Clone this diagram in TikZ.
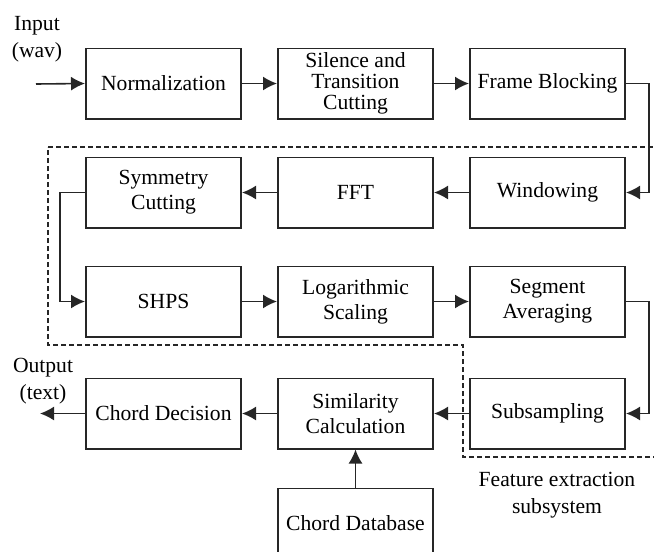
\documentclass[tikz,border=0pt]{standalone}
\usepackage{fontspec}
\setmainfont{Liberation Serif}
\usepackage{tikz}
\usetikzlibrary{arrows.meta,positioning}
\tikzset{
  box/.style={
    draw=black!85,fill=white,line width=.9pt,
    minimum width=77.6pt,minimum height=35.1pt,inner sep=1pt,
    align=center,font=\fontsize{10.8pt}{12.5pt}\selectfont
  },
  label/.style={align=center,font=\fontsize{10.8pt}{13.5pt}\selectfont},
  arrow/.style={-{Latex[length=7pt,width=7pt]},draw=black!85,line width=.8pt},
  subsys/.style={draw=black!85,line width=.7pt,dash pattern=on 2.4pt off 1.6pt}
}
\begin{document}
\begin{tikzpicture}[x=0.5pt,y=-0.5pt,node distance=18.5pt and 17.5pt]
\useasboundingbox (0,0) rectangle (654,552);

% feature extraction region
\draw[subsys] (48,147) -- (670,147) -- (670,457) -- (463,457)
  -- (463,345) -- (48,345) -- cycle;

\node[box] (norm) at (163.5,83.5) {Normalization};
\node[box,right=of norm] (silence)
{Silence and\\[-2pt]Transition\\[-2pt]Cutting};
\node[box,right=of silence] (frame) {Frame Blocking};

\node[box,below=of frame] (window) {Windowing};
\node[box,left=of window] (fft) {FFT};
\node[box,left=of fft] (symm) {Symmetry\\Cutting};

\node[box,below=of symm] (shps) {SHPS};
\node[box,right=of shps] (logscale) {Logarithmic\\Scaling};
\node[box,right=of logscale] (segavg) {Segment\\Averaging};

\node[box,below=20pt of segavg] (subsamp) {Subsampling};
\node[box,left=of subsamp] (simcalc) {Similarity\\Calculation};
\node[box,left=of simcalc] (decision) {Chord Decision};

\node[box,below=19pt of simcalc] (database) {Chord Database};

\node[label] (inlabel) at (37,39) {Input\\(wav)};
\node[label] (outlabel) at (43,381) {Output\\(text)};
\node[label] (fexlabel) at (557,495) {Feature extraction\\subsystem};

\coordinate (in) at (36,84);
\coordinate (out) at (40,411);

\draw[arrow] (in) -- (norm.west);
\draw[arrow] (norm) -- (silence);
\draw[arrow] (silence) -- (frame);
\draw[arrow] (frame.east) -- ++(23,0) |- (window.east);
\draw[arrow] (window) -- (fft);
\draw[arrow] (fft) -- (symm);
\draw[arrow] (symm.west) -- ++(-25,0) |- (shps.west);
\draw[arrow] (shps) -- (logscale);
\draw[arrow] (logscale) -- (segavg);
\draw[arrow] (segavg.east) -- ++(23,0) |- (subsamp.east);
\draw[arrow] (subsamp) -- (simcalc);
\draw[arrow] (simcalc) -- (decision);
\draw[arrow] (decision.west) -- (decision.west -| out);
\draw[arrow] (database) -- (simcalc);
\end{tikzpicture}
\end{document}
